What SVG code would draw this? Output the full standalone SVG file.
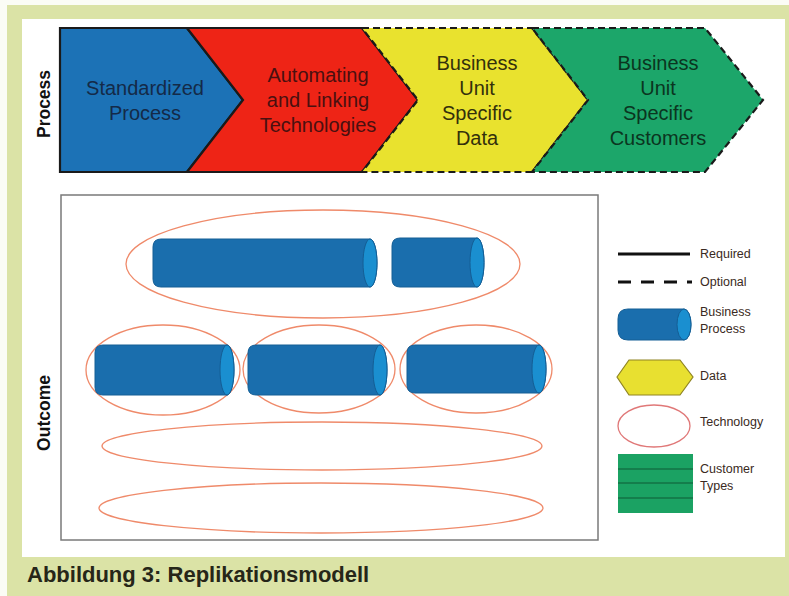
<svg xmlns="http://www.w3.org/2000/svg" width="789" height="596" viewBox="0 0 789 596">
<style>
.chev{stroke:#1a1a1a;stroke-width:2.2;stroke-linejoin:miter}
.dash{stroke-dasharray:7 4}
.ct{font-family:"Liberation Sans",Arial,sans-serif;font-size:20px;text-anchor:middle}
.side{font-family:"Liberation Sans",Arial,sans-serif;font-size:17.5px;font-weight:bold;text-anchor:middle;fill:#111}
.cyl{fill:#1a6ead;stroke:#145e95;stroke-width:1}
.cap{fill:#1a8fd0;stroke:#145e95;stroke-width:1}
.tech{fill:none;stroke:#ef8a6a;stroke-width:1.3}
.lg{font-family:"Liberation Sans",Arial,sans-serif;font-size:12.5px;fill:#3a2a22}
</style>
<rect x="0" y="0" width="789" height="596" fill="#fbfcf5"/>
<rect x="7" y="5" width="782" height="591" fill="#dbe3a6"/>
<rect x="22" y="19" width="763" height="538" fill="#ffffff"/>

<g id="process-label"><text class="side" transform="translate(50,104) rotate(-90)">Process</text></g>
<g id="outcome-label"><text class="side" transform="translate(50,413) rotate(-90)">Outcome</text></g>

<g id="standardized-process">
<path class="chev" d="M60,28 H187 L243,100 L187,172 H60 Z" fill="#1c72b6"/>
<text class="ct" fill="#142a48"><tspan x="145" y="95">Standardized</tspan><tspan x="145" y="120">Process</tspan></text>
</g>
<g id="automating-linking">
<path class="chev" d="M187,28 H362 L418,100 L362,172 H187 L243,100 Z" fill="#ee2416"/>
<text class="ct" fill="#4a1010"><tspan x="318" y="82">Automating</tspan><tspan x="318" y="107">and Linking</tspan><tspan x="318" y="132">Technologies</tspan></text>
</g>
<g id="bu-specific-data">
<path class="chev dash" d="M362,28 H532 L588,100 L532,172 H362 L418,100 Z" fill="#e9e22e"/>
<text class="ct" fill="#33300c"><tspan x="477" y="70">Business</tspan><tspan x="477" y="95">Unit</tspan><tspan x="477" y="120">Specific</tspan><tspan x="477" y="145">Data</tspan></text>
</g>
<g id="bu-specific-customers">
<path class="chev dash" d="M532,28 H705 L763,100 L705,172 H532 L588,100 Z" fill="#1ca66a"/>
<text class="ct" fill="#0b3520"><tspan x="658" y="70">Business</tspan><tspan x="658" y="95">Unit</tspan><tspan x="658" y="120">Specific</tspan><tspan x="658" y="145">Customers</tspan></text>
</g>

<g id="outcome-box"><rect x="61" y="195" width="537" height="345" fill="#ffffff" stroke="#7a7a7a" stroke-width="1.5"/></g>

<g id="tech-row1">
<ellipse class="tech" cx="323" cy="264" rx="197" ry="54"/>
<path class="cyl" d="M161,239 H370 A7,24 0 0 1 370,287 H161 Q153,287 153,279 V247 Q153,239 161,239 Z"/>
<ellipse class="cap" cx="370" cy="263" rx="7" ry="24"/>
<path class="cyl" d="M400,238 H477 A7,24.5 0 0 1 477,287 H400 Q392,287 392,279 V246 Q392,238 400,238 Z"/>
<ellipse class="cap" cx="477" cy="262.5" rx="7" ry="24.5"/>
</g>
<g id="tech-row2a">
<ellipse class="tech" cx="163" cy="370" rx="77" ry="45"/>
<path class="cyl" d="M103,345 H227 A7,25 0 0 1 227,395 H103 Q95,395 95,387 V353 Q95,345 103,345 Z"/>
<ellipse class="cap" cx="227" cy="370" rx="7" ry="25"/>
</g>
<g id="tech-row2b">
<ellipse class="tech" cx="319" cy="369" rx="76" ry="44"/>
<path class="cyl" d="M256,345 H380 A7,25 0 0 1 380,395 H256 Q248,395 248,387 V353 Q248,345 256,345 Z"/>
<ellipse class="cap" cx="380" cy="370" rx="7" ry="25"/>
</g>
<g id="tech-row2c">
<ellipse class="tech" cx="476" cy="369" rx="76" ry="44"/>
<path class="cyl" d="M415,345 H539 A7,24 0 0 1 539,393 H415 Q407,393 407,385 V353 Q407,345 415,345 Z"/>
<ellipse class="cap" cx="539" cy="369" rx="7" ry="24"/>
</g>
<g id="tech-row3"><ellipse class="tech" cx="322" cy="446" rx="220" ry="24"/></g>
<g id="tech-row4"><ellipse class="tech" cx="321" cy="508" rx="222" ry="25"/></g>

<g id="connectors"></g>

<g id="legend">
<line x1="618" y1="254" x2="690" y2="254" stroke="#111" stroke-width="3"/>
<text class="lg" x="700" y="258">Required</text>
<line x1="618" y1="282" x2="692" y2="282" stroke="#111" stroke-width="3" stroke-dasharray="13 10"/>
<text class="lg" x="700" y="286">Optional</text>
<path class="cyl" d="M628,309 H684 A7,15.5 0 0 1 684,340 H628 Q618,340 618,330 V319 Q618,309 628,309 Z"/>
<ellipse class="cap" cx="684" cy="324.5" rx="7" ry="15.5"/>
<text class="lg"><tspan x="700" y="316">Business</tspan><tspan x="700" y="333">Process</tspan></text>
<polygon points="617,377 629,360 680,360 693,377 680,395 629,395" fill="#e8e030" stroke="#8f8422" stroke-width="1.2"/>
<text class="lg" x="700" y="380">Data</text>
<ellipse cx="654" cy="426" rx="36" ry="21" fill="#fff" stroke="#e07878" stroke-width="1.3"/>
<text class="lg" x="700" y="426">Technology</text>
<rect x="618" y="454" width="75" height="59" fill="#1ba263"/>
<line x1="618" y1="469" x2="693" y2="469" stroke="#0e5a36" stroke-width="1.2"/>
<line x1="618" y1="483" x2="693" y2="483" stroke="#0e5a36" stroke-width="1.2"/>
<line x1="618" y1="498" x2="693" y2="498" stroke="#0e5a36" stroke-width="1.2"/>
<text class="lg"><tspan x="700" y="473">Customer</tspan><tspan x="700" y="490">Types</tspan></text>
</g>

<text x="27" y="582" font-family="Liberation Sans,Arial,sans-serif" font-size="22" font-weight="bold" fill="#262618">Abbildung 3: Replikationsmodell</text>
</svg>
